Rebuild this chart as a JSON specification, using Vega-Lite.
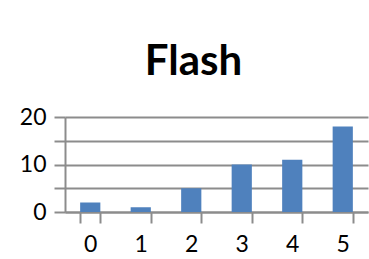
{
  "$schema": "https://vega.github.io/schema/vega-lite/v6.json",
  "autosize": {"type": "none"},
  "padding": {"left": 65, "top": 117, "right": 1, "bottom": 47},
  "width": 303,
  "height": 95,
  "background": "white",
  "title": {
    "text": "Flash",
    "font": "Lato",
    "fontWeight": "bold",
    "fontSize": 42,
    "color": "black",
    "anchor": "middle",
    "baseline": "alphabetic",
    "offset": -11,
    "dx": -23
  },
  "data": {
    "values": [
      {"category": "0", "value": 2},
      {"category": "1", "value": 1},
      {"category": "2", "value": 5},
      {"category": "3", "value": 10},
      {"category": "4", "value": 11},
      {"category": "5", "value": 18}
    ]
  },
  "mark": {"type": "bar", "color": "#4F81BD"},
  "encoding": {
    "x": {
      "field": "category",
      "type": "ordinal",
      "sort": null,
      "scale": {"paddingInner": 0.6, "paddingOuter": 0.3},
      "axis": {
        "title": null,
        "labelAngle": 0,
        "tickBand": "extent",
        "tickSize": 11,
        "tickWidth": 2,
        "tickColor": "#8c8c8c",
        "domainColor": "#8c8c8c",
        "domainWidth": 2,
        "labelFont": "Lato",
        "labelFontSize": 23,
        "labelColor": "black",
        "labelBaseline": "alphabetic",
        "labelPadding": 28,
        "grid": false
      }
    },
    "y": {
      "field": "value",
      "type": "quantitative",
      "scale": {"domain": [0, 20], "nice": false},
      "axis": {
        "title": null,
        "values": [0, 5, 10, 15, 20],
        "labelExpr": "datum.value % 10 === 0 ? datum.label : ''",
        "grid": true,
        "gridColor": "#8c8c8c",
        "gridWidth": 2,
        "tickSize": 11,
        "tickWidth": 2,
        "tickColor": "#8c8c8c",
        "domainColor": "#8c8c8c",
        "domainWidth": 2,
        "labelFont": "Lato",
        "labelFontSize": 23,
        "labelColor": "black",
        "labelPadding": 8,
        "labelBaseline": "middle"
      }
    }
  },
  "config": {"view": {"stroke": null}}
}
